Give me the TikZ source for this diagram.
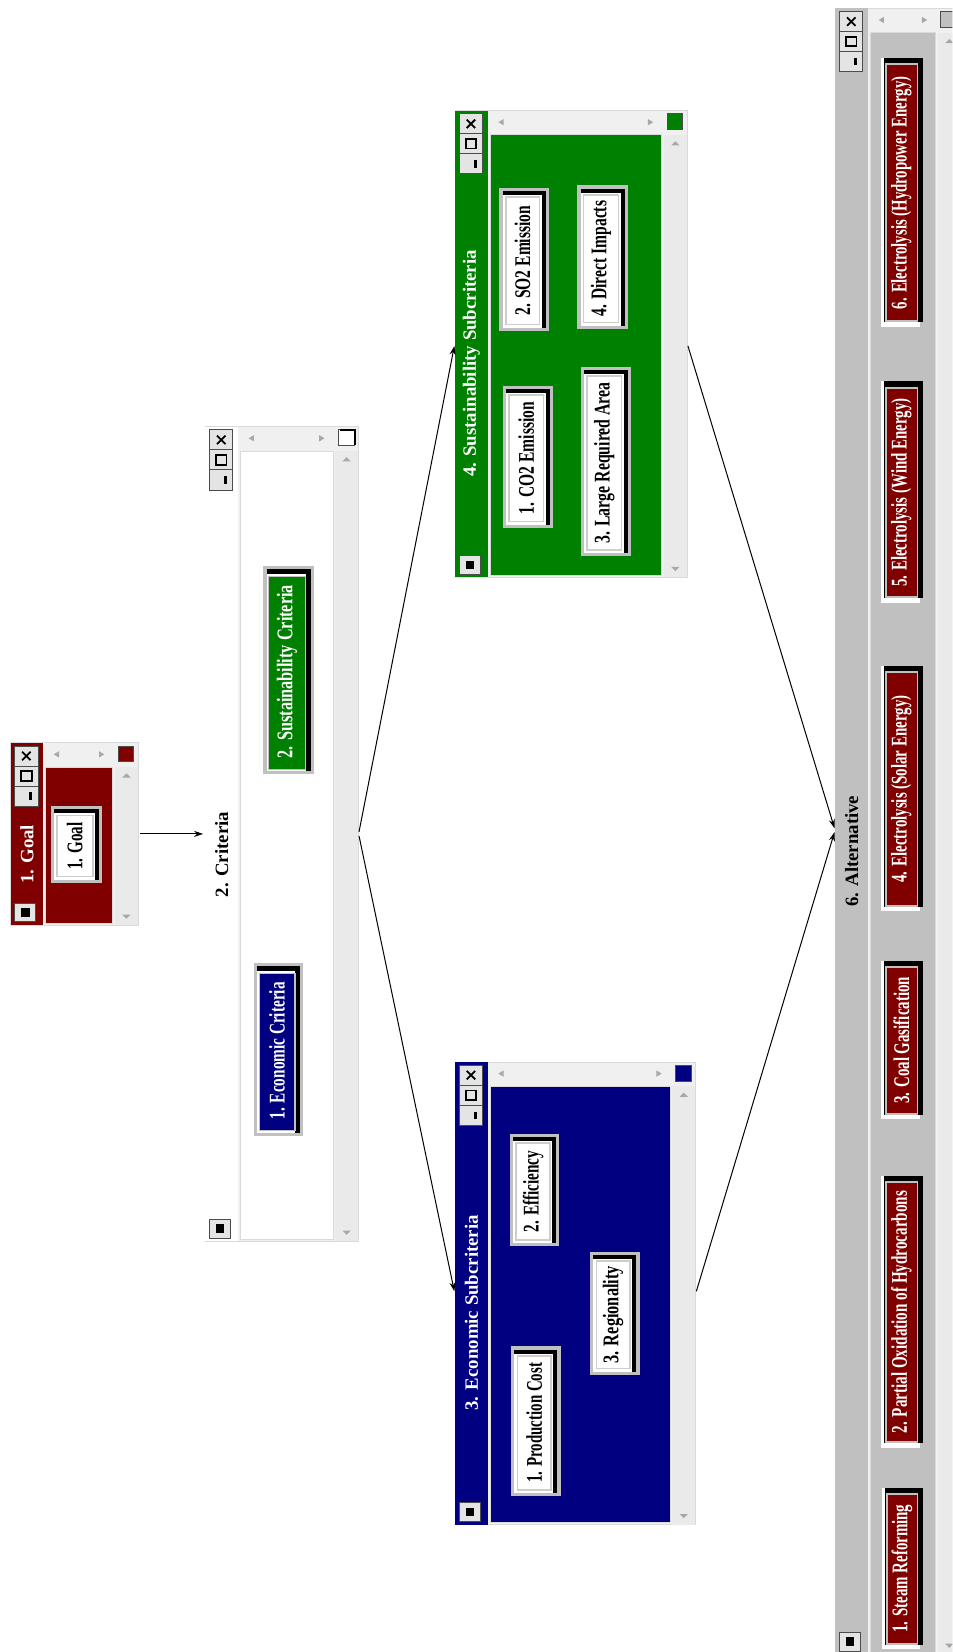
\documentclass[tikz,border=0pt]{standalone}
\usepackage{fontspec}
\usepackage{graphicx}
\setmainfont{Liberation Serif}
\usetikzlibrary{arrows.meta,fit}
\definecolor{dred}{HTML}{800000}
\definecolor{dnavy}{HTML}{000080}
\definecolor{dgreen}{HTML}{008000}
\definecolor{wgray}{HTML}{C0C0C0}
\definecolor{sbar}{HTML}{F0F0F0}
\definecolor{vbar}{HTML}{EAEAEA}
\definecolor{wedge}{HTML}{DADADA}
\definecolor{arrg}{HTML}{A8A8A8}
\definecolor{tbtn}{HTML}{E4E4E4}

\tikzset{
  btntext/.style={rotate=90, font=\fontsize{11.2}{12}\selectfont\bfseries, inner sep=0pt},
  wtitle/.style={rotate=90, font=\fontsize{9.4}{11}\selectfont\bfseries, inner sep=0pt},
  winbox/.style={inner sep=0pt, draw=none},
  conn/.style={draw=black, line width=0.5pt, -{Stealth[length=4.5pt,width=3pt]}, shorten >=1pt, shorten <=1pt},
  tb/.style={fill=tbtn, draw=black!70, line width=0.4pt}
}

% window frame: #1 x1, #2 y1, #3 x2, #4 y2, #5 title bar colour, #6 content colour, #7 corner colour
\newcommand{\winframe}[7]{%
  \fill[sbar,draw=wedge] (#1,#2) rectangle (#3,#4);
  \fill[#5] (#1,#2) rectangle ({#1+31},#4);
  \fill[#6,draw=wedge] ({#1+33},{#2+23}) rectangle ({#3-24},{#4-2});
  \fill[arrg] ({#1+41},{#2+11}) -- ({#1+46},{#2+8}) -- ({#1+46},{#2+14}) -- cycle;
  \fill[arrg] ({#3-32},{#2+11}) -- ({#3-37},{#2+8}) -- ({#3-37},{#2+14}) -- cycle;
  \fill[vbar] ({#3-22},{#2+23}) rectangle (#3,#4);
  \fill[arrg] ({#3-11},{#2+29}) -- ({#3-15},{#2+33}) -- ({#3-7},{#2+33}) -- cycle;
  \fill[arrg] ({#3-11},{#4-6}) -- ({#3-15},{#4-10}) -- ({#3-7},{#4-10}) -- cycle;
  \fill[#7,draw=black!70] ({#3-19},{#2+3}) rectangle ({#3-4},{#2+18});
  % title buttons
  \path[tb] ({#1+4},{#2+3}) rectangle ({#1+26},{#2+22});
  \draw[line width=0.9pt] ({#1+11},{#2+8.5}) -- ({#1+19},{#2+16.5}) ({#1+11},{#2+16.5}) -- ({#1+19},{#2+8.5});
  \path[tb] ({#1+4},{#2+22}) rectangle ({#1+26},{#2+41});
  \draw[line width=0.9pt] ({#1+10},{#2+27}) rectangle ({#1+20},{#2+36});
  \path[tb] ({#1+4},{#2+41}) rectangle ({#1+26},{#2+60});
  \draw[line width=1.6pt] ({#1+19},{#2+47}) -- ({#1+19},{#2+54});
  \path[tb] ({#1+4},{#4-21}) rectangle ({#1+24},{#4-3});
  \fill[black] ({#1+10},{#4-16}) rectangle ({#1+18},{#4-8});
}

% white button: #1 name, #2 x1, #3 y1, #4 x2, #5 y2, #6 text scale, #7 text
\newcommand{\btn}[7]{%
  \fill[wgray] (#2,#3) rectangle (#4,#5);
  \fill[black] ({#2+3},{#3+3}) rectangle ({#4-3},{#5-3});
  \fill[white] ({#2+3},{#3+7}) rectangle ({#4-7},{#5-3});
  \fill[white,draw=wgray!80,line width=0.8pt] ({#2+6},{#3+9}) rectangle ({#4-9},{#5-6});
  \node[btntext, text=black] (#1) at ({(#2+#4)/2-1.5},{(#3+#5)/2+1.5}) {\scalebox{#6}[1]{#7}};
}
% coloured button in Criteria window: #1 name, #2 x1, #3 y1, #4 x2, #5 y2, #6 face, #7 scale, #8 text
\newcommand{\cbtn}[8]{%
  \fill[wgray] (#2,#3) rectangle (#4,#5);
  \fill[black] ({#2+3},{#3+3}) rectangle ({#4-3},{#5-3});
  \fill[white] ({#2+3},{#3+8}) rectangle ({#4-8},{#5-3});
  \fill[#6,draw=wgray,line width=0.6pt] ({#2+5},{#3+10}) rectangle ({#4-8},{#5-5});
  \node[btntext, text=white] (#1) at ({(#2+#4)/2-1.5},{(#3+#5)/2+1.5}) {\scalebox{#7}[1]{#8}};
}
% button of the Alternative window: #1 name #2 x1 #3 y1 #4 x2 #5 y2 #6 scale #7 text
\newcommand{\altbtn}[7]{%
  \fill[white] (#2,#3) rectangle ({#4-3},#5);
  \fill[black] ({#2+3},#3) rectangle (#4,{#5-4});
  \fill[wgray] ({#2+4},{#3+5}) rectangle ({#4-5},{#5-4});
  \fill[dred] ({#2+6},{#3+7}) rectangle ({#4-6},{#5-6});
  \node[btntext, text=white] (#1) at ({(#2+#4)/2-0.5},{(#3+#5)/2+0.5}) {\scalebox{#6}[1]{#7}};
}

\begin{document}
\begin{tikzpicture}[x=0.5265pt, y=-0.5265pt]
\clip (0,0) rectangle (904,1568);
\fill[white] (0,0) rectangle (904,1568);

% ---------- Goal ----------
\winframe{10}{705}{131}{878}{dred}{dred}{dred}
\node[wtitle, text=white] (tgoal) at (25.5,811) {1. Goal};
\btn{bgoal}{48}{765}{97}{838}{0.67}{1. Goal}
\node[winbox, fit={(10,705) (131,878)}] (goal) {};

% ---------- Criteria ----------
\winframe{195}{405}{340}{1178}{white}{white}{white}
\draw[black, line width=1pt] (323,408) -- (337,408) -- (337,422);
\node[wtitle, text=black] (tcrit) at (210.5,811) {2. Criteria};
\cbtn{bsust}{250}{537}{298}{735}{dgreen}{0.725}{2. Sustainability Criteria}
\cbtn{becon}{241}{914}{288}{1078}{dnavy}{0.68}{1. Economic Criteria}
\node[winbox, fit={(195,405) (340,1178)}] (crit) {};

% ---------- Sustainability Subcriteria ----------
\winframe{432}{105}{652}{548}{dgreen}{dgreen}{dgreen}
\node[wtitle, text=white] (tsust) at (447.5,345) {4. Sustainability Subcriteria};
\btn{bco}{477}{366}{525}{501}{0.695}{1. CO2 Emission}
\btn{bso}{474}{178}{521}{314}{0.695}{2. SO2 Emission}
\btn{blra}{551}{348}{599}{528}{0.705}{3. Large Required Area}
\btn{bdi}{548}{176}{596}{312}{0.695}{4. Direct Impacts}
\node[winbox, fit={(432,105) (652,548)}] (sust) {};

% ---------- Economic Subcriteria ----------
\winframe{432}{1008}{660}{1447}{dnavy}{dnavy}{dnavy}
\node[wtitle, text=white] (tecon) at (447.5,1246) {3. Economic Subcriteria};
\btn{bpc}{485}{1278}{532}{1420}{0.665}{1. Production Cost}
\btn{beff}{484}{1076}{531}{1183}{0.68}{2. Efficiency}
\btn{breg}{560}{1188}{607}{1305}{0.73}{3. Regionality}
\node[winbox, fit={(432,1008) (660,1447)}] (econ) {};

% ---------- Alternative ----------
\winframe{793}{8}{912}{1570}{wgray}{wgray}{wgray}
\node[wtitle, text=black] (talt) at (808.5,808) {6. Alternative};
\altbtn{ba6}{836}{55}{876}{310}{0.66}{6. Electrolysis (Hydropower Energy)}
\altbtn{ba5}{836}{362}{876}{572}{0.665}{5. Electrolysis (Wind Energy)}
\altbtn{ba4}{836}{632}{876}{865}{0.665}{4. Electrolysis (Solar Energy)}
\altbtn{ba3}{836}{912}{876}{1062}{0.665}{3. Coal Gasification}
\altbtn{ba2}{836}{1116}{876}{1374}{0.675}{2. Partial Oxidation of Hydrocarbons}
\altbtn{ba1}{837}{1412}{876}{1565}{0.665}{1. Steam Reforming}
\node[winbox, fit={(793,8) (912,1568)}] (alt) {};

% ---------- connectors ----------
\draw[conn] (goal.east) -- (crit.west);
\draw[conn] (crit.east) -- (sust.west);
\draw[conn] (crit.east) -- (econ.west);
\draw[conn] (sust.east) -- (alt.west);
\draw[conn] (econ.east) -- (alt.west);
\end{tikzpicture}
\end{document}
